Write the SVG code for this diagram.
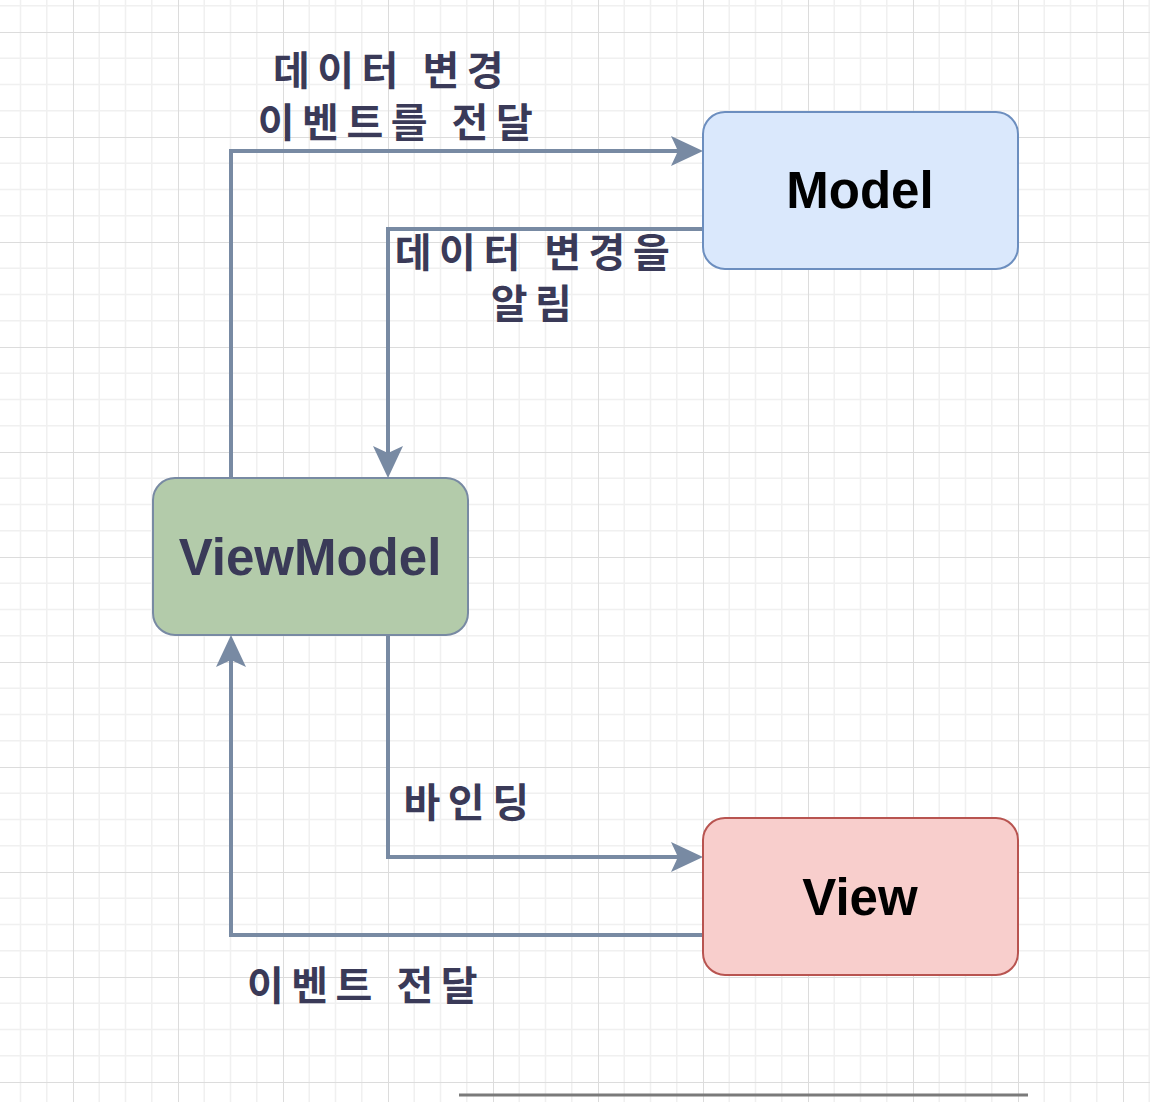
<svg xmlns="http://www.w3.org/2000/svg" width="1150" height="1102" viewBox="0 0 1150 1102">
<defs>
<pattern id="grid" patternUnits="userSpaceOnUse" x="73" y="32" width="105" height="105">
<path d="M26.25 0V105M52.5 0V105M78.75 0V105M0 26.25H105M0 52.5H105M0 78.75H105" stroke="#f0f0f0" stroke-width="1.5" fill="none"/>
<path d="M0 0V105M0 0H105" stroke="#dcdcdc" stroke-width="2" fill="none"/>
</pattern>
<marker id="arr" viewBox="0 0 32 32" refX="7" refY="16" markerWidth="32" markerHeight="32" markerUnits="userSpaceOnUse" orient="auto">
<path d="M0 1L32 16L0 31L7 16Z" fill="#788aa3"/>
</marker>
</defs>
<style>
.node{stroke-width:2}
.ntext{font-family:"Liberation Sans",Arial,sans-serif;font-weight:bold;font-size:51px;text-anchor:middle}
.edge{fill:none;stroke:#788aa3;stroke-width:4;marker-end:url(#arr)}
.lbl{font-family:"Noto Sans CJK KR","Noto Sans",sans-serif;font-weight:bold;font-size:40px;letter-spacing:7.5px;fill:#3a3a58;text-anchor:middle}
</style>
<rect width="1150" height="1102" fill="#ffffff"/>
<rect width="1150" height="1102" fill="url(#grid)"/>
<line x1="459" y1="1095" x2="1028" y2="1095" stroke="#7a7a7a" stroke-width="3"/>
<g id="connectors">
<path class="edge" d="M231 478V151H678"/>
<path class="edge" d="M703 229H388V453"/>
<path class="edge" d="M388 635V857H678"/>
<path class="edge" d="M703 935H231V660"/>
</g>
<g id="labels">
<text class="lbl" x="392" y="85">데이터 변경</text>
<text class="lbl" x="399" y="137">이벤트를 전달</text>
<text class="lbl" x="536" y="267">데이터 변경을</text>
<text class="lbl" x="535" y="318">알림</text>
<text class="lbl" x="470" y="817">바인딩</text>
<text class="lbl" x="366" y="1000">이벤트 전달</text>
</g>
<g id="model">
<rect class="node" x="703" y="112" width="315" height="157" rx="22" fill="#dae8fc" stroke="#6c8ebf"/>
<text class="ntext" x="860" y="208" fill="#000000">Model</text>
</g>
<g id="viewmodel">
<rect class="node" x="153" y="478" width="315" height="157" rx="22" fill="#b3cbaa" stroke="#788aa3"/>
<text class="ntext" x="310" y="575" fill="#3a3a58">ViewModel</text>
</g>
<g id="view">
<rect class="node" x="703" y="818" width="315" height="157" rx="22" fill="#f8cecc" stroke="#b85450"/>
<text class="ntext" x="860" y="915" fill="#000000">View</text>
</g>
</svg>
